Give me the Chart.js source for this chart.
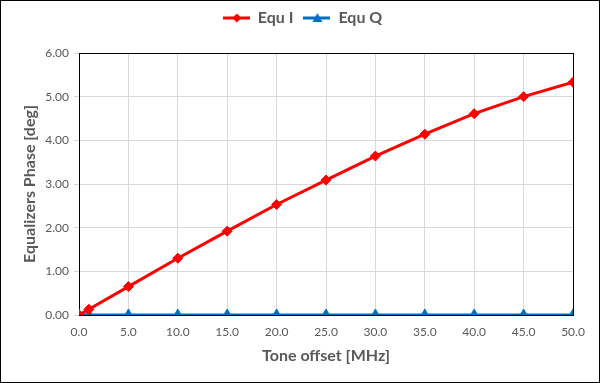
<!DOCTYPE html>
<html><head><meta charset="utf-8">
<script src="https://cdn.jsdelivr.net/npm/chart.js@4/dist/chart.umd.min.js"></script>
<style>html,body{margin:0;padding:0;background:#fff}#wrap{width:600px;height:383px;position:relative}</style>
</head><body><div id="wrap"><canvas id="c" width="600" height="383"></canvas></div>
<script>
const toneOffset = [0, 1, 5, 10, 15, 20, 25, 30, 35, 40, 45, 50];
const equI = [0, 0.13, 0.65, 1.30, 1.92, 2.53, 3.09, 3.64, 4.14, 4.61, 5.00, 5.33];
const equQ = [0, 0, 0, 0, 0, 0, 0, 0, 0, 0, 0, 0];
const seriesNames = ['Equ I', 'Equ Q'];
const seriesColors = ['#FF0000', '#0070C0'];
const seriesMarkers = ['rectRot', 'triangle'];

const FONT = 'Lato, "Open Sans", sans-serif';
const GREY = '#595959';

function legendIcon(color, marker) {
  const cv = document.createElement('canvas');
  cv.width = 27; cv.height = 12;
  const g = cv.getContext('2d');
  g.strokeStyle = color; g.lineWidth = 3;
  g.beginPath(); g.moveTo(0, 6); g.lineTo(27, 6); g.stroke();
  g.fillStyle = color;
  g.beginPath();
  if (marker === 'rectRot') {
    g.moveTo(14, 1.5); g.lineTo(18.5, 6); g.lineTo(14, 10.5); g.lineTo(9.5, 6);
  } else {
    g.moveTo(14, 1); g.lineTo(19, 10); g.lineTo(9, 10);
  }
  g.closePath(); g.fill();
  return cv;
}

function points(ys) { return toneOffset.map((x, i) => ({x: x, y: ys[i]})); }

const borderPlugin = {
  id: 'borders',
  afterInit(chart) {
    const leg = chart.legend;
    if (leg) {
      const orig = leg.fit;
      leg.fit = function () { orig.call(this); this.height = 53; };
      const od = leg.draw;
      leg.draw = function (a) { const c = this.ctx; c.save(); c.translate(16, 0); od.call(this, a); c.restore(); };
    }
  },
  beforeDatasetsDraw(chart) {
    const a = chart.chartArea, ctx = chart.ctx;
    ctx.save();
    ctx.strokeStyle = '#000'; ctx.lineWidth = 1;
    ctx.strokeRect(Math.round(a.left) + 0.5, Math.round(a.top) + 0.5, Math.round(a.right - a.left), Math.round(a.bottom - a.top));
    ctx.restore();
  },
  afterDraw(chart) {
    const ctx = chart.ctx;
    ctx.save();
    ctx.strokeStyle = '#000'; ctx.lineWidth = 1;
    ctx.strokeRect(0.5, 0.5, chart.width - 1, chart.height - 1);
    ctx.restore();
  }
};

new Chart(document.getElementById('c'), {
  type: 'scatter',
  data: {
    datasets: [
      { label: seriesNames[0], data: points(equI), showLine: true, borderColor: seriesColors[0], backgroundColor: seriesColors[0],
        borderWidth: 3, pointStyle: seriesMarkers[0], pointRadius: 5, pointHoverRadius: 5, pointBorderWidth: 1 },
      { label: seriesNames[1], data: points(equQ), showLine: true, borderColor: seriesColors[1], backgroundColor: seriesColors[1],
        borderWidth: 3, pointStyle: seriesMarkers[1], pointRadius: 6, pointHoverRadius: 6, pointBorderWidth: 1 }
    ]
  },
  options: {
    responsive: false,
    animation: false,
    devicePixelRatio: 1,
    layout: { padding: { left: 0, right: 27, top: 0, bottom: 0 } },
    plugins: {
      tooltip: { enabled: false },
      legend: {
        position: 'top',
        labels: {
          usePointStyle: true,
          pointStyleWidth: 27,
          padding: 10,
          color: GREY,
          font: { family: FONT, size: 16, weight: 'bold' },
          generateLabels(chart) {
            return chart.data.datasets.map((ds, i) => ({
              text: ds.label, datasetIndex: i, fontColor: GREY,
              pointStyle: legendIcon(seriesColors[i], seriesMarkers[i]),
              fillStyle: seriesColors[i], strokeStyle: seriesColors[i], lineWidth: 0, hidden: false
            }));
          }
        }
      }
    },
    scales: {
      x: {
        type: 'linear', min: 0, max: 50,
        afterFit(s) { s.height = 68; },
        ticks: { stepSize: 5, color: GREY, font: { family: FONT, size: 12 }, padding: 10,
                 callback: v => Number(v).toFixed(1) },
        grid: { color: '#D9D9D9', lineWidth: 1, drawTicks: false },
        border: { display: false },
        title: { display: true, text: 'Tone offset [MHz]', color: GREY, font: { family: FONT, size: 16, weight: 'bold' }, padding: { top: 4, bottom: 18 } }
      },
      y: {
        type: 'linear', min: 0, max: 6,
        afterFit(s) { s.width = 79; },
        ticks: { stepSize: 1, color: GREY, font: { family: FONT, size: 12 }, padding: 5,
                 callback: v => Number(v).toFixed(2) },
        grid: { color: '#D9D9D9', lineWidth: 1, tickLength: 5 },
        border: { display: true, color: '#000' },
        title: { display: true, text: 'Equalizers Phase [deg]', color: GREY, font: { family: FONT, size: 16, weight: 'bold' }, padding: { top: 20, bottom: 4 } }
      }
    }
  },
  plugins: [borderPlugin]
});
</script>
</body></html>
